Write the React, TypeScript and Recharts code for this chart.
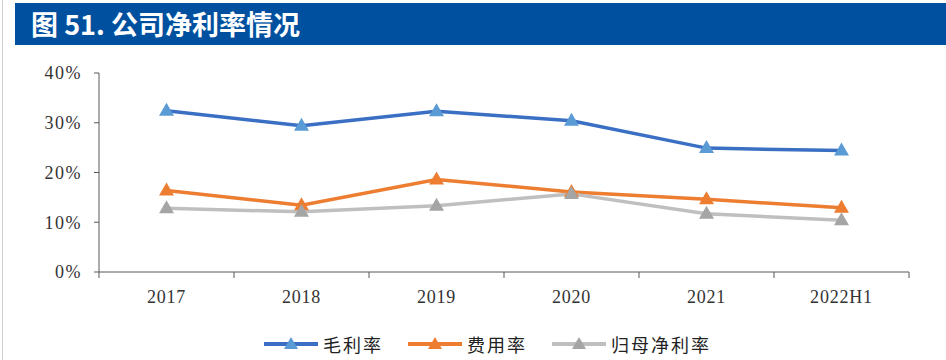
import React from 'react'
import { LineChart, Line, XAxis, YAxis } from 'recharts'

const categories = ['2017', '2018', '2019', '2020', '2021', '2022H1']
const grossMargin = [32.4, 29.4, 32.3, 30.4, 24.9, 24.4]
const expenseRatio = [16.4, 13.4, 18.6, 16.1, 14.6, 12.9]
const netMargin = [12.8, 12.1, 13.3, 15.7, 11.7, 10.4]
const yTicks = [0, 10, 20, 30, 40]

const series = [
  { key: 'gross', name: '毛利率', line: '#3A6FC4', marker: '#5B9BD5', values: grossMargin, left: 264 },
  { key: 'expense', name: '费用率', line: '#ED7D31', marker: '#ED7D31', values: expenseRatio, left: 408 },
  { key: 'net', name: '归母净利率', line: '#BFBFBF', marker: '#A5A5A5', values: netMargin, left: 552 },
]

const data = categories.map((c, i) => ({
  name: c,
  x: i + 0.5,
  gross: grossMargin[i],
  expense: expenseRatio[i],
  net: netMargin[i],
}))

// ticks at band edges (integers) + label positions (halves)
const xTicks: number[] = []
for (let i = 0; i <= categories.length * 2; i++) xTicks.push(i / 2)

const serif = '"Liberation Serif", "DejaVu Serif", serif'

function XTick(props: any) {
  const { x, y, payload } = props
  const v = payload.value
  if (Number.isInteger(v)) {
    return <line x1={x} y1={y} x2={x} y2={y + 6} stroke="#595959" strokeWidth={1} />
  }
  const label = categories[Math.floor(v)]
  return (
    <text x={x} y={y + 31} textAnchor="middle" fill="#333" fontSize={18} letterSpacing={0.8} fontFamily={serif}>
      {label}
    </text>
  )
}

function Triangle(color: string) {
  return (props: any) => {
    const { cx, cy, index } = props
    if (cx == null || cy == null) return <g key={index} />
    return (
      <path
        key={index}
        d={`M${cx},${cy - 8} L${cx - 7.5},${cy + 5} L${cx + 7.5},${cy + 5} Z`}
        fill={color}
      />
    )
  }
}

export default function App() {
  return (
    <div style={{ position: 'absolute', left: 0, top: 0, width: 946, height: 360, background: '#fff', overflow: 'hidden' }}>
      <div style={{ position: 'absolute', left: 2, top: 0, width: 1, height: 360, background: '#d0d0d0' }} />
      <div
        style={{
          position: 'absolute',
          left: 15,
          top: 3,
          width: 931,
          height: 42,
          background: '#0050A0',
          color: '#fff',
          fontFamily: '"Noto Sans CJK SC", "Noto Sans", sans-serif',
          fontWeight: 700,
          fontSize: 27,
          lineHeight: '42px',
          paddingLeft: 16,
          boxSizing: 'border-box',
        }}
      >
        图 51. 公司净利率情况
      </div>
      <div style={{ position: 'absolute', left: 0, top: 0 }}>
        <LineChart width={946} height={360} data={data} margin={{ top: 73, right: 37, left: 0, bottom: 58 }}>
          <XAxis
            dataKey="x"
            type="number"
            domain={[0, categories.length]}
            ticks={xTicks}
            interval={0}
            tickLine={false}
            tickSize={0}
            tickMargin={0}
            height={30}
            stroke="#595959"
            tick={<XTick />}
          />
          <YAxis
            domain={[0, 40]}
            ticks={yTicks}
            interval={0}
            width={99}
            tickSize={5}
            tickMargin={12}
            stroke="#595959"
            tickFormatter={(v: number) => `${v}%`}
            tick={{ fill: '#333', fontSize: 18, fontFamily: serif, letterSpacing: 1.5 }}
          />
          {series.map((s) => (
            <Line
              key={s.key}
              dataKey={s.key}
              name={s.name}
              stroke={s.line}
              strokeWidth={3.5}
              dot={Triangle(s.marker)}
              activeDot={false}
              isAnimationActive={false}
            />
          ))}
        </LineChart>
      </div>
      {series.map((s) => (
        <div
          key={s.key}
          style={{
            position: 'absolute',
            top: 331,
            left: s.left,
            display: 'flex',
            alignItems: 'center',
            fontFamily: '"Noto Sans CJK SC", serif',
            fontSize: 18,
            letterSpacing: 2,
            color: '#222',
            whiteSpace: 'nowrap',
          }}
        >
          <svg width={54} height={24}>
            <line x1={0} y1={12} x2={54} y2={12} stroke={s.line} strokeWidth={4} />
            <path d="M27,5 L20,17 L34,17 Z" fill={s.marker} />
          </svg>
          <span style={{ marginLeft: 5 }}>{s.name}</span>
        </div>
      ))}
    </div>
  )
}
